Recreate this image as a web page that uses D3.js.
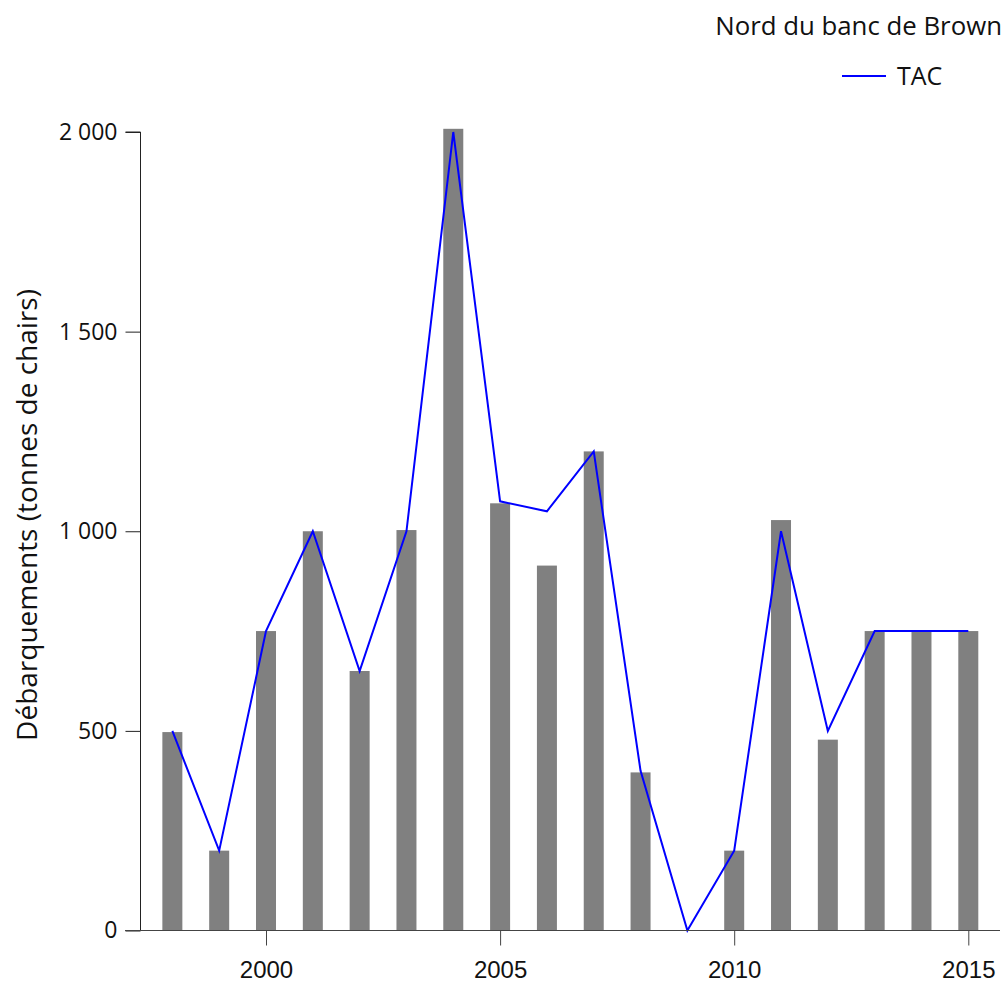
<!DOCTYPE html>
<html>
<head>
<meta charset="utf-8">
<script src="https://cdn.jsdelivr.net/npm/d3@7"></script>
<style>
body { margin: 0; background: #fff; }
svg { display: block; }
</style>
</head>
<body>
<svg id="chart" width="1008" height="984"></svg>
<script>
const years = [1998,1999,2000,2001,2002,2003,2004,2005,2006,2007,2008,2009,2010,2011,2012,2013,2014,2015];
const landings = [497,200,750,1000,650,1003,2008,1070,914,1200,396,0,200,1028,478,750,750,750];
const tac = [500,200,750,1000,650,1000,2000,1075,1050,1200,400,0,200,1000,500,750,750,750];
const yTicks = [0,500,1000,1500,2000];
const xTicks = [2000,2005,2010,2015];
const title = "Nord du banc de Brown";
const legendLabel = "TAC";
const yTitle = "Débarquements (tonnes de chairs)";

const svg = d3.select("#chart");
const x = d3.scaleLinear().domain([2000, 2015]).range([266, 968.3]);
const y = d3.scaleLinear().domain([0, 2000]).range([930.5, 132]);

// bars
const barW = 20;
svg.append("g").selectAll("rect").data(years).join("rect")
  .attr("x", (d) => x(d) - barW / 2)
  .attr("width", barW)
  .attr("y", (d, i) => y(landings[i]))
  .attr("height", (d, i) => y(0) - y(landings[i]))
  .attr("fill", "#808080");

// TAC line
const line = d3.line().x((d) => x(d[0])).y((d) => y(d[1]));
svg.append("path")
  .datum(years.map((yr, i) => [yr, tac[i]]))
  .attr("d", line)
  .attr("fill", "none")
  .attr("stroke", "#0000ff")
  .attr("stroke-width", 2);

// y axis
const yAxis = svg.append("g").attr("transform", "translate(140.5,0)")
  .call(d3.axisLeft(y).tickValues(yTicks).tickSize(15).tickPadding(8).tickFormat(v => d3.format(",")(v).replace(/,/g, " ")));
yAxis.select(".domain").attr("d", `M-15,${y(2000)}H0V${y(0)}`).attr("stroke", "#222");
yAxis.selectAll(".tick line").attr("stroke", "#222");
yAxis.selectAll("text").attr("font-family", "Open Sans, Noto Sans, sans-serif").attr("font-size", 23).attr("fill", "#111");

// x axis
const xAxis = svg.append("g").attr("transform", "translate(0,930.5)")
  .call(d3.axisBottom(x).tickValues(xTicks).tickSize(15).tickPadding(15).tickFormat(d3.format("d")));
xAxis.select(".domain").attr("d", "M125,0H1000").attr("stroke", "#444");
xAxis.selectAll(".tick line").attr("stroke", "#444");
xAxis.selectAll("text").attr("font-family", "Liberation Sans, Arial, sans-serif").attr("font-size", 24).attr("fill", "#111");

// y title
svg.append("text")
  .attr("transform", "translate(37,515) rotate(-90)")
  .attr("text-anchor", "middle")
  .attr("font-family", "Open Sans, Noto Sans, sans-serif")
  .attr("font-size", 28)
  .attr("fill", "#111")
  .text(yTitle);

// title
svg.append("text")
  .attr("x", 1002).attr("y", 35)
  .attr("text-anchor", "end")
  .attr("font-family", "Open Sans, Noto Sans, sans-serif")
  .attr("font-size", 25.8)
  .attr("fill", "#111")
  .text(title);

// legend
svg.append("line").attr("x1", 842).attr("x2", 886).attr("y1", 76).attr("y2", 76)
  .attr("stroke", "#0000ff").attr("stroke-width", 2);
svg.append("text").attr("x", 897).attr("y", 85)
  .attr("font-family", "Open Sans, Noto Sans, sans-serif")
  .attr("font-size", 25).attr("fill", "#111")
  .text(legendLabel);
</script>
</body>
</html>
